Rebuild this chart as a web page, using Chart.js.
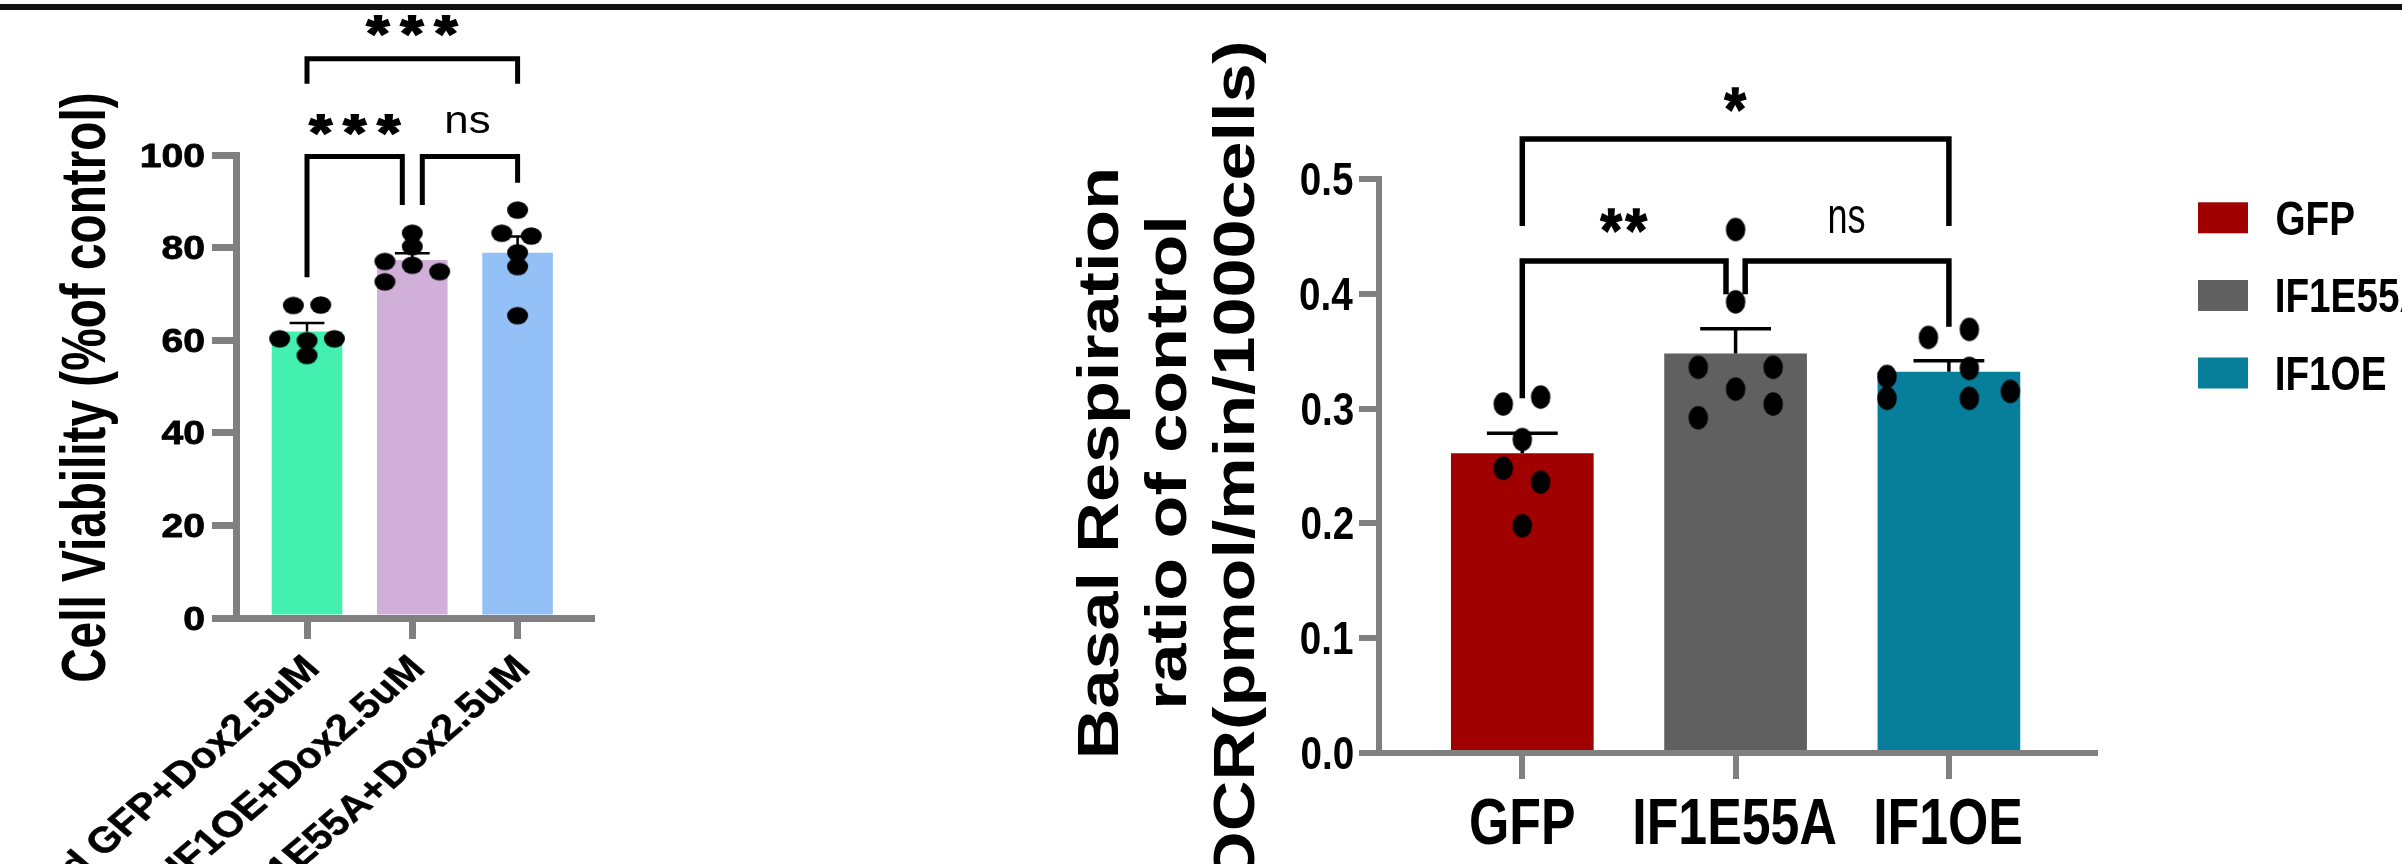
<!DOCTYPE html>
<html><head><meta charset="utf-8">
<script src="https://cdn.jsdelivr.net/npm/chart.js@4/dist/chart.umd.min.js"></script>
<style>html,body{margin:0;padding:0;background:#fff;overflow:hidden;width:2402px;height:864px}canvas{position:absolute;left:0;top:0}</style>
</head><body>
<canvas id="c1" width="2402" height="864"></canvas>
<canvas id="c2" width="2402" height="864"></canvas>
<script>
// ---------- Left panel: cell viability ----------
const viabilityGroups = ['Ad GFP+Dox2.5uM', 'Ad IF1OE+Dox2.5uM', 'Ad IF1E55A+Dox2.5uM'];
const viabilityMean = [61.9, 77.3, 78.9];
const viabilitySem = [1.8, 1.5, 3.5];
const viabilityGFP = [67.5, 67.6, 60.3, 59.9, 60.3, 56.7];
const viabilityIF1OE = [83.1, 80.2, 77.0, 76.2, 74.8, 72.6];
const viabilityIF1E55A = [88.1, 83.1, 82.5, 78.9, 75.9, 65.3];
const viabilityJitter = [[-0.13, 0.13, -0.26, 0, 0.26, 0], [0, 0, -0.26, 0, 0.26, -0.26], [0, -0.15, 0.13, 0, 0, 0]];
const viabilityTicks = [0, 20, 40, 60, 80, 100];
const viabilityTitle = 'Cell Viability (%of control)';
// [from, to, bracketY, leftLegEnd, rightLegEnd, label, labelX, labelY]
const viabilitySig = [
  [0, 2, 120.8, 115.4, 115.4, '***', 1.0, 127.8],
  [0, 0.905, 99.7, 73.6, 89.2, '***', 0.456, 106.3],
  [1.095, 2, 99.7, 89.2, 94.0, 'ns', 1.529, 107.2]
];
const viabilityColors = ['#44F0B0', '#D0B0D8', '#94C0F8'];

// ---------- Right panel: basal respiration ----------
const resGroups = ['GFP', 'IF1E55A', 'IF1OE'];
const resMean = [0.261, 0.348, 0.332];
const resSem = [0.0175, 0.0216, 0.0097];
const resGFP = [0.304, 0.310, 0.273, 0.248, 0.236, 0.198];
const resIF1E55A = [0.456, 0.393, 0.336, 0.336, 0.317, 0.304, 0.292];
const resIF1OE = [0.362, 0.369, 0.328, 0.335, 0.309, 0.309, 0.315];
const resJitter = [[-0.089, 0.086, 0, -0.089, 0.086, 0], [0, 0, -0.175, 0.176, 0, 0.176, -0.175], [-0.096, 0.096, -0.29, 0.096, -0.29, 0.096, 0.288]];
const resTicks = [0, 0.1, 0.2, 0.3, 0.4, 0.5];
const resTickLabels = ['0.0', '0.1', '0.2', '0.3', '0.4', '0.5'];
const resTitle = ['Basal Respiration', 'ratio of control', 'OCR(pmol/min/1000cells)'];
const resSig = [
  [0, 2, 0.5348, 0.459, 0.459, '*', 1.0, 0.5688],
  [0, 0.955, 0.4286, 0.309, 0.3996, '**', 0.477, 0.4634],
  [1.045, 2, 0.4286, 0.3996, 0.3713, 'ns', 1.522, 0.4647]
];
const resColors = ['#A00000', '#606060', '#087F9A'];

const FONT = '"Liberation Sans", Arial, Helvetica, sans-serif';
const AXIS = '#808080';

function ellipseDot(w, h) {
  const c = document.createElement('canvas');
  c.width = Math.ceil(w) + 2; c.height = Math.ceil(h) + 2;
  const g = c.getContext('2d');
  g.fillStyle = '#000'; g.beginPath();
  g.ellipse(c.width / 2, c.height / 2, w / 2, h / 2, 0, 0, Math.PI * 2); g.fill();
  return c;
}

function txt(ctx, s, x, y, o) {
  ctx.save();
  ctx.translate(x, y);
  if (o.pre) o.pre(ctx);
  if (o.rot) ctx.rotate(o.rot);
  ctx.scale(o.sx || 1, o.sy || 1);
  ctx.font = o.font; ctx.fillStyle = o.color || '#000';
  ctx.textAlign = 'left'; ctx.textBaseline = 'alphabetic';
  const m = ctx.measureText(s);
  const l = -m.actualBoundingBoxLeft, r = m.actualBoundingBoxRight;
  const t = -m.actualBoundingBoxAscent, b = m.actualBoundingBoxDescent;
  const dx = o.align === 'right' ? -r : o.align === 'left' ? -l : -(l + r) / 2;
  const dy = o.vmode === 'baseline' ? 0 : -(t + b) / 2;
  ctx.fillText(s, dx, dy);
  if (o.stroke) { ctx.lineWidth = o.stroke; ctx.strokeStyle = ctx.fillStyle; ctx.lineJoin = 'round'; ctx.strokeText(s, dx, dy); }
  ctx.restore();
}

function fitTxt(ctx, s, cx, cy, w, h, font, stroke) {
  ctx.save();
  ctx.font = font; ctx.fillStyle = '#000';
  ctx.textAlign = 'left'; ctx.textBaseline = 'alphabetic';
  const m = ctx.measureText(s);
  const bw = m.actualBoundingBoxLeft + m.actualBoundingBoxRight;
  const bh = m.actualBoundingBoxAscent + m.actualBoundingBoxDescent;
  ctx.translate(cx, cy); ctx.scale(w / bw, h / bh);
  const dx = -(m.actualBoundingBoxRight - m.actualBoundingBoxLeft) / 2, dy = (m.actualBoundingBoxAscent - m.actualBoundingBoxDescent) / 2;
  ctx.fillText(s, dx, dy);
  if (stroke) { ctx.lineWidth = stroke; ctx.strokeStyle = '#000'; ctx.strokeText(s, dx, dy); }
  ctx.restore();
}

function drawErrorBars(chart, mean, sem, halfCap, lw) {
  const xs = chart.scales.x, ys = chart.scales.y, ctx = chart.ctx;
  ctx.save(); ctx.strokeStyle = '#000'; ctx.lineWidth = lw; ctx.lineCap = 'butt';
  mean.forEach((m, i) => {
    const x = xs.getPixelForValue(i), y0 = ys.getPixelForValue(m), y1 = ys.getPixelForValue(m + sem[i]);
    ctx.beginPath();
    ctx.moveTo(x, y0); ctx.lineTo(x, y1);
    ctx.moveTo(xs.getPixelForValue(i - halfCap), y1); ctx.lineTo(xs.getPixelForValue(i + halfCap), y1);
    ctx.stroke();
  });
  ctx.restore();
}

function drawSig(ctx, xs, ys, rows, st) {
  ctx.save(); ctx.strokeStyle = '#000'; ctx.lineWidth = st.lw; ctx.lineJoin = 'miter'; ctx.lineCap = 'butt';
  rows.forEach(([a, b, yb, ya, yc, label, lx, ly]) => {
    const xa = xs.getPixelForValue(a), xb = xs.getPixelForValue(b), y = ys.getPixelForValue(yb);
    ctx.beginPath();
    ctx.moveTo(xa, ys.getPixelForValue(ya)); ctx.lineTo(xa, y); ctx.lineTo(xb, y); ctx.lineTo(xb, ys.getPixelForValue(yc));
    ctx.stroke();
    const cx = xs.getPixelForValue(lx), cy = ys.getPixelForValue(ly);
    if (/^\*+$/.test(label)) {
      const n = label.length, s = st.star;
      for (let k = 0; k < n; k++) fitTxt(ctx, '*', cx + (k - (n - 1) / 2) * s.pitch, cy, s.w, s.h, s.font, s.stroke);
    } else {
      fitTxt(ctx, label, cx, cy, st.ns.w, st.ns.h, st.ns.font);
    }
  });
  ctx.restore();
}

function scatterData(groups, jitter) {
  return groups.flatMap((arr, g) => arr.map((v, k) => ({ x: g + jitter[g][k], y: v })));
}

function axes(xmin, xmax, ymax, ystep, w, xtl, ytl) {
  return {
    x: {
      type: 'linear', min: xmin, max: xmax, offset: false,
      afterFit: s => { s.height = 0; },
      afterBuildTicks: s => { s.ticks = s.ticks.filter(t => Number.isInteger(t.value)); },
      ticks: { display: false, stepSize: 1, includeBounds: false },
      grid: { display: true, offset: false, drawOnChartArea: false, drawTicks: true, tickLength: xtl, tickWidth: w, tickColor: AXIS, color: AXIS, lineWidth: w },
      border: { display: true, color: AXIS, width: w }
    },
    y: {
      type: 'linear', min: 0, max: ymax,
      afterFit: s => { s.width = 0; },
      ticks: { display: false, stepSize: ystep },
      grid: { display: true, drawOnChartArea: false, drawTicks: true, tickLength: ytl, tickWidth: w, tickColor: AXIS, color: AXIS, lineWidth: w },
      border: { display: true, color: AXIS, width: w }
    }
  };
}

const decor1 = {
  id: 'decor1',
  afterDatasetsDraw(chart) { drawErrorBars(chart, viabilityMean, viabilitySem, 0.165, 2.5); },
  afterDraw(chart) {
    const ctx = chart.ctx, xs = chart.scales.x, ys = chart.scales.y;
    viabilityTicks.forEach(v => txt(ctx, String(v), 204, ys.getPixelForValue(v), { font: `bold 34px ${FONT}`, sx: 1.15, align: 'right', stroke: 0.8 }));
    viabilityGroups.forEach((g, i) => txt(ctx, g, xs.getPixelForValue(i) + 2, 662, { font: `bold 42px ${FONT}`, pre: c => c.scale(1, 0.86), rot: -Math.PI / 4, align: 'right', stroke: 0.6 }));
    txt(ctx, viabilityTitle, 105, 388, { font: `bold 62.8px ${FONT}`, rot: -Math.PI / 2, sx: 0.76, vmode: 'baseline' });
    drawSig(ctx, xs, ys, viabilitySig, { lw: 5, star: { w: 23, h: 19, pitch: 34, font: `bold 60px ${FONT}`, stroke: 2.5 }, ns: { w: 43, h: 21.7, font: `40px ${FONT}` } });
    ctx.save(); ctx.fillStyle = '#111'; ctx.fillRect(0, 4, chart.width, 6); ctx.restore();
  }
};

const decor2 = {
  id: 'decor2',
  afterDatasetsDraw(chart) { drawErrorBars(chart, resMean, resSem, 0.166, 3.5); },
  afterDraw(chart) {
    const ctx = chart.ctx, xs = chart.scales.x, ys = chart.scales.y;
    resTicks.forEach((v, i) => txt(ctx, resTickLabels[i], 1353, ys.getPixelForValue(v), { font: `bold 46px ${FONT}`, sx: 0.84, align: 'right' }));
    resGroups.forEach((g, i) => txt(ctx, g, xs.getPixelForValue(i), 821.5, { font: `bold 65.6px ${FONT}`, sx: 0.79 }));
    const baseX = [1118, 1186, 1254];
    resTitle.forEach((line, i) => txt(ctx, line, baseX[i], 463, { font: `bold 57px ${FONT}`, rot: -Math.PI / 2, sx: 1.23, vmode: 'baseline' }));
    drawSig(ctx, xs, ys, resSig, { lw: 5.5, star: { w: 22, h: 23.5, pitch: 25, font: `bold 60px ${FONT}`, stroke: 1.5 }, ns: { w: 35.6, h: 27, font: `44px ${FONT}` } });
    // legend
    const legY = [217.8, 295.5, 373];
    resGroups.forEach((g, i) => {
      ctx.save(); ctx.fillStyle = resColors[i]; ctx.fillRect(2198, legY[i] - 15.5, 50, 31); ctx.restore();
      txt(ctx, g, 2277, legY[i], { font: `bold 49px ${FONT}`, sx: 0.79, align: 'left' });
    });
  }
};

Chart.defaults.font.family = FONT;

new Chart(document.getElementById('c1'), {
  type: 'bar',
  data: {
    datasets: [
      { type: 'bar', data: viabilityMean.map((v, i) => ({ x: i, y: v })), backgroundColor: viabilityColors, borderWidth: 0, barPercentage: 0.67, categoryPercentage: 1, order: 2 },
      { type: 'scatter', data: scatterData([viabilityGFP, viabilityIF1OE, viabilityIF1E55A], viabilityJitter), pointStyle: ellipseDot(21, 17.5), pointRadius: 10, order: 0 }
    ]
  },
  options: {
    responsive: false, devicePixelRatio: 1, animation: false, events: [],
    layout: { padding: { left: 236, right: 2402 - 591.7, top: 155, bottom: 864 - 618 } },
    plugins: { legend: { display: false }, tooltip: { enabled: false } },
    scales: axes(-0.6743, 2.7037, 100, 20, 7, 21, 24)
  },
  plugins: [decor1]
});

new Chart(document.getElementById('c2'), {
  type: 'bar',
  data: {
    datasets: [
      { type: 'bar', data: resMean.map((v, i) => ({ x: i, y: v })), backgroundColor: resColors, borderWidth: 0, barPercentage: 0.669, categoryPercentage: 1, order: 2 },
      { type: 'scatter', data: scatterData([resGFP, resIF1E55A, resIF1OE], resJitter), pointStyle: ellipseDot(19.5, 23.5), pointRadius: 10, order: 0 }
    ]
  },
  options: {
    responsive: false, devicePixelRatio: 1, animation: false, events: [],
    layout: { padding: { left: 1379, right: 2402 - 2095, top: 179, bottom: 864 - 753 } },
    plugins: { legend: { display: false }, tooltip: { enabled: false } },
    scales: axes(-0.6718, 2.685, 0.5, 0.1, 6, 26, 20)
  },
  plugins: [decor2]
});
</script>
</body></html>
